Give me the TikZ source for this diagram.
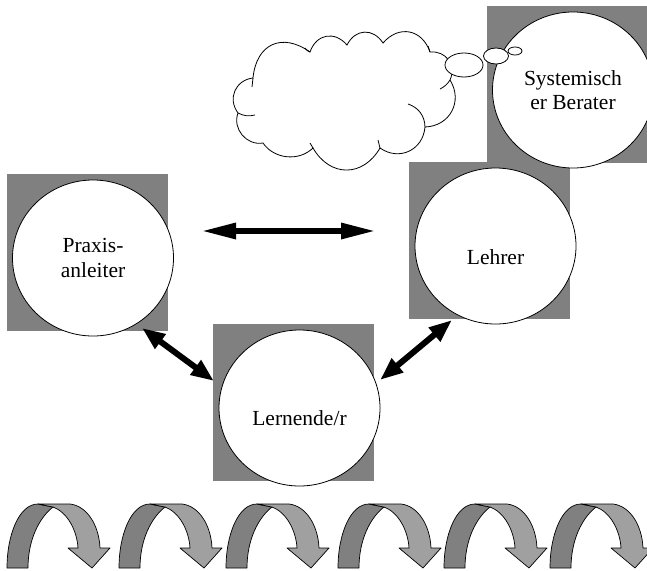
\documentclass[tikz,border=0pt]{standalone}
\usepackage{fontspec}
\setmainfont{Liberation Serif}
\usetikzlibrary{shapes.geometric,arrows.meta}
\definecolor{boxgray}{HTML}{808080}
\definecolor{darkband}{HTML}{808080}
\definecolor{lightband}{HTML}{A0A0A0}
\begin{document}
\begin{tikzpicture}[x=1pt,y=-1pt,
  shadowbox/.style={fill=boxgray, draw=none, inner sep=0pt, minimum width=161pt, minimum height=157pt, anchor=north west},
  actor/.style={ellipse, draw=black, line width=0.8pt, fill=white, minimum width=161pt, minimum height=156pt, inner sep=0pt, align=center, font=\fontsize{21.5}{24.5}\selectfont},
  link/.style={line width=6pt, {Triangle[length=23pt,width=17pt]}-{Triangle[length=23pt,width=17pt]}},
  longlink/.style={line width=6pt, {Triangle[length=35pt,width=15pt]}-{Triangle[length=35pt,width=15pt]}},
  cloudline/.style={draw=black, line width=0.8pt, fill=white},
  bubble/.style={ellipse, draw=black, line width=0.8pt, fill=white, inner sep=0pt},
  hook/.style={draw=black, line width=0.8pt},
  darkpart/.style={fill=darkband, draw=black, line width=0.7pt, line join=round},
  lightpart/.style={fill=lightband, draw=black, line width=0.7pt, line join=round}]
\useasboundingbox (0,0) rectangle (647,570);
\fill[white] (0,0) rectangle (647,570);

% grey squares
\node[shadowbox] (sqP) at (7,174) {};
\node[shadowbox] (sqL) at (409,162) {};
\node[shadowbox] (sqN) at (213,324) {};
\node[shadowbox] (sqS) at (487,6) {};

% circles
\node[actor] (praxis) at (93,258) {Praxis-\\anleiter};
\node[actor] (lehrer) at (495.5,246) {\raisebox{-11pt}[\height][\depth]{Lehrer}};
\node[actor] (lernende) at (299.5,408) {\raisebox{-10pt}[\height][\depth]{Lernende/r}};
\node[actor] (berater) at (573,90) {Systemisch\\er Berater};

% thought cloud
\draw[cloudline] (253,78) to[bend left=60, looseness=1.4] (310,52)
  to[bend left=60, looseness=1.3] (347,45)
  to[bend left=60, looseness=1.3] (383,43)
  to[bend left=60, looseness=1.3] (430,52)
  to[bend left=60, looseness=1.2] (450,80)
  to[bend left=60, looseness=1.2] (425,127)
  to[bend left=60, looseness=1.2] (380,148)
  to[bend left=60, looseness=1.3] (313,148)
  to[bend left=50, looseness=1.0] (263,143)
  to[bend left=60, looseness=1.1] (238,113)
  to[bend left=60, looseness=1.2] (253,78) -- cycle;
\draw[hook] (253,78) -- (252,87);
\draw[hook] (238,113) to[bend right=20] (255,115);
\draw[hook] (310,52) to[bend left=20] (305,48);
\draw[hook] (430,52) -- (428,46);
\draw[hook] (450,80) to[bend left=15] (440,89);
\draw[hook] (408,104) to[bend left=35] (425,127);
\draw[hook] (380,148) -- (378,140);
\draw[hook] (313,148) -- (310,143);

% thought bubbles
\node[bubble, minimum width=38pt, minimum height=24pt] (b1) at (464,65) {};
\node[bubble, minimum width=25pt, minimum height=16pt] (b2) at (496,56) {};
\node[bubble, minimum width=14pt, minimum height=8pt] (b3) at (515,51) {};

% arrows
\coordinate (hL) at (201,231);
\coordinate (hR) at (376,231);
\draw[longlink] (hL) -- (hR);
\coordinate (d1a) at (142,328);
\coordinate (d1b) at (214,381);
\draw[link] (d1a) -- (d1b);
\coordinate (d2a) at (380,380);
\coordinate (d2b) at (452,320);
\draw[link] (d2a) -- (d2b);

% curved arrows along the bottom
\foreach \x in {7,119,226,338,444,550}{
  \begin{scope}[shift={(\x,0)}]
    \path[darkpart] (0,568) .. controls (0,535) and (12,504) .. (31,504) -- (46,507)
      .. controls (32,518) and (21,540) .. (21,568) -- cycle;
    \path[lightpart] (31,504) -- (63,504) .. controls (80,506) and (92,525) .. (93,548)
      -- (103,548) -- (85,568) -- (61,548) -- (71,548)
      .. controls (70,530) and (60,512) .. (46,507) -- cycle;
  \end{scope}
}
\end{tikzpicture}
\end{document}
